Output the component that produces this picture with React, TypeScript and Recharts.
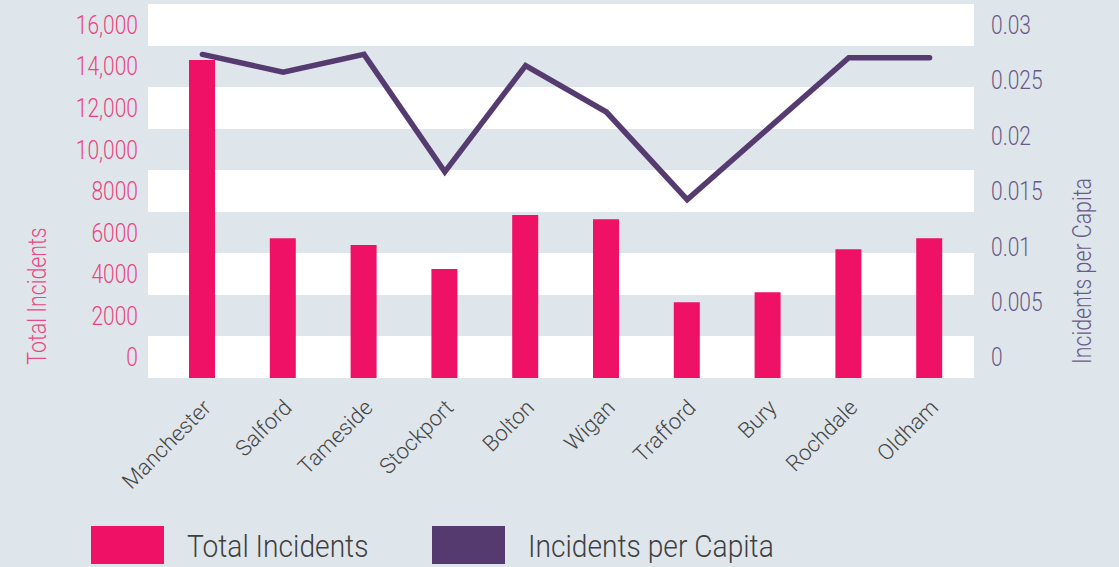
import React from 'react';
import {
  ComposedChart,
  Bar,
  Line,
  XAxis,
  YAxis,
  CartesianGrid,
} from 'recharts';

const boroughs = ['Manchester', 'Salford', 'Tameside', 'Stockport', 'Bolton', 'Wigan', 'Trafford', 'Bury', 'Rochdale', 'Oldham'];
const totalIncidents = [15300, 6730, 6400, 5240, 7840, 7640, 3650, 4130, 6200, 6730];
const incidentsPerCapita = [0.0292, 0.0276, 0.0292, 0.0186, 0.0282, 0.024, 0.0161, 0.0225, 0.0289, 0.0289];
const leftTicks = [0, 2000, 4000, 6000, 8000, 10000, 12000, 14000, 16000, 18000];
const rightTicks = [0, 0.005, 0.01, 0.015, 0.02, 0.025, 0.03];

const BG = '#dfe6eb';
const PINK = '#ee1166';
const PURPLE = '#553b70';
const FONT = 'Roboto, "Open Sans", sans-serif';
const SQUEEZE = 0.84; // the source uses a condensed face
const HALF_BAND = 20.8; // labels sit in the middle of each stripe

const chartData = boroughs.map((name, i) => ({
  name,
  total: totalIncidents[i],
  perCapita: incidentsPerCapita[i],
}));

const fmtLeft = (v: number) => (v >= 10000 ? v.toLocaleString('en-GB') : String(v));

const LeftTick = ({ x, y, payload }: any) => {
  if (payload.value === 18000) return null;
  return (
    <g transform={`translate(${x - 2},${y - HALF_BAND + 1})`}>
      <text transform={`scale(${SQUEEZE},1)`} textAnchor="end" dominantBaseline="central"
        fill="#e8457f" fontSize={25} fontWeight={300} fontFamily={FONT}>
        {fmtLeft(payload.value)}
      </text>
    </g>
  );
};

const RightTick = ({ x, y, payload }: any) => (
  <g transform={`translate(${x + 9},${y - HALF_BAND + 1})`}>
    <text transform={`scale(${SQUEEZE},1)`} textAnchor="start" dominantBaseline="central"
      fill="#6a5a88" fontSize={25} fontWeight={300} fontFamily={FONT}>
      {String(payload.value)}
    </text>
  </g>
);

const BoroughTick = ({ x, y, payload }: any) => (
  <g transform={`translate(${x + 10},${y + 23})`}>
    <text transform="rotate(-45)" textAnchor="end" fill="#454545"
      fontSize={22} fontWeight={300} fontFamily={FONT}>
      {payload.value}
    </text>
  </g>
);

const AxisTitle = ({ text, cx, cy, color }: any) => (
  <g transform={`translate(${cx},${cy}) rotate(-90)`}>
    <text transform={`scale(0.82,1)`} textAnchor="middle" dominantBaseline="central"
      fill={color} fontSize={26} fontWeight={300} fontFamily={FONT}>
      {text}
    </text>
  </g>
);

const LegendItem = ({ color, label, left }: any) => (
  <div style={{ position: 'absolute', left, top: 526, display: 'flex', alignItems: 'flex-start' }}>
    <div style={{ width: 73, height: 38, background: color }} />
    <div style={{
      marginLeft: 23, marginTop: 1, fontFamily: FONT, fontWeight: 300, fontSize: 32, lineHeight: '38px',
      color: '#3f3f3f', transform: 'scaleX(0.88)', transformOrigin: 'left', whiteSpace: 'nowrap',
    }}>
      {label}
    </div>
  </div>
);

export default function App() {
  return (
    <div style={{ position: 'absolute', left: 0, top: 0, width: 1119, height: 567, background: BG, overflow: 'hidden' }}>
      <ComposedChart width={1119} height={567} data={chartData}
        margin={{ top: 4, right: 0, bottom: 0, left: 0 }} barSize={26}>
        <CartesianGrid yAxisId="left" vertical={false} stroke="none"
          horizontalFill={['#ffffff', BG]} />
        <XAxis dataKey="name" height={189} axisLine={false} tickLine={false}
          interval={0} padding={{ left: 14, right: 4 }} tick={<BoroughTick />} />
        <YAxis yAxisId="left" width={148} domain={[0, 18000]} ticks={leftTicks}
          axisLine={false} tickLine={false} tick={<LeftTick />} />
        <YAxis yAxisId="right" orientation="right" width={145} domain={[0, 0.03375]}
          ticks={rightTicks} axisLine={false} tickLine={false} tick={<RightTick />} />
        <Bar yAxisId="left" dataKey="total" name="Total Incidents" fill={PINK} isAnimationActive={false} />
        <Line yAxisId="right" dataKey="perCapita" name="Incidents per Capita" type="linear"
          stroke={PURPLE} strokeWidth={5.5} strokeLinecap="round" dot={false} activeDot={false}
          isAnimationActive={false} />
        <AxisTitle text="Total Incidents" cx={37} cy={296} color="#ea4a83" />
        <AxisTitle text="Incidents per Capita" cx={1082} cy={271} color="#6a5a88" />
      </ComposedChart>
      <LegendItem color={PINK} label="Total Incidents" left={91} />
      <LegendItem color="#553a70" label="Incidents per Capita" left={432} />
    </div>
  );
}
